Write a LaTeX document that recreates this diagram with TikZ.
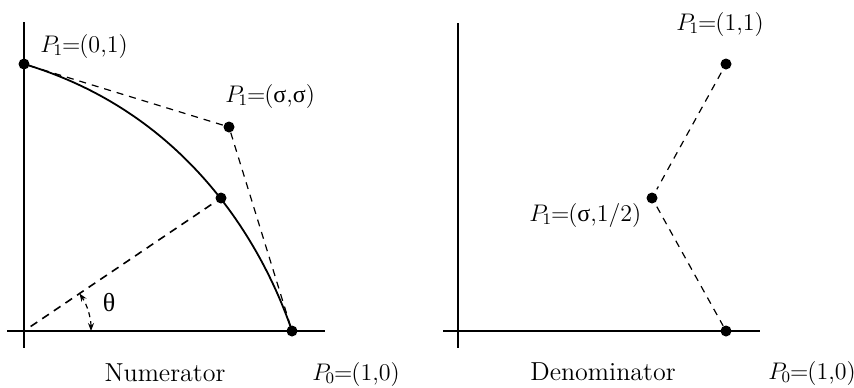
\documentclass[tikz,border=0pt]{standalone}
\usepackage{fontspec}
\newfontfamily\grk{Liberation Serif}
\usetikzlibrary{arrows.meta}
\tikzset{
  dot/.style={circle,fill=black,inner sep=0pt,minimum size=5.5pt},
  axis/.style={line width=1.1pt},
  curveline/.style={line width=0.9pt},
  dashline/.style={line width=0.6pt,dash pattern=on 3.5pt off 3pt},
  lbl/.style={inner sep=0pt,font=\fontsize{12}{14}\selectfont},
  captext/.style={inner sep=0pt,font=\fontsize{13}{15}\selectfont},
}
\newcommand{\sg}{{\grk σ}}
\newcommand{\eqq}{\kern-0.5pt=\kern-0.5pt}
\newcommand{\PtSub}[1]{$P_{\kern-1pt #1}$}
\begin{document}
\begin{tikzpicture}[x=0.5pt,y=-0.5pt]
\useasboundingbox (0,0) rectangle (854,387);
% ---------- left panel ----------
\coordinate (ly1) at (24,22);
\coordinate (ly2) at (24,348);
\coordinate (lx1) at (7,331);
\coordinate (lx2) at (325,331);
\coordinate (O) at (24,331);
\draw[axis] (ly1) -- (ly2);
\draw[axis] (lx1) -- (lx2);
\node[dot] (a) at (24,64) {};
\node[dot] (s) at (229,127) {};
\node[dot] (m) at (221,198) {};
\node[dot] (p0) at (292,331) {};
\draw[curveline] (a.center) .. controls (205,118) and (272,272) .. (p0.center);
\draw[dashline] (a) -- (s);
\draw[dashline] (s) -- (p0);
\draw[dashline,line width=0.8pt,dash pattern=on 4pt off 3pt,shorten <=4pt] (O) -- (m);
\coordinate (arcstart) at (91,331);
\draw[dashline,dash pattern=on 2.5pt off 2pt,{Stealth[length=4pt,width=3pt]}-{Stealth[length=4pt,width=3pt]}]
  (arcstart) arc[start angle=0,end angle=34,radius=33.5pt];
\node[captext] (th) at (109,303) {\grk θ};
\node[lbl,anchor=base west] (la) at (40,52) {\PtSub{1}\eqq(0,1)};
\node[lbl,anchor=base west] (ls) at (225,102) {\PtSub{1}\eqq(\sg,\sg)};
\node[captext,anchor=base] (num) at (165,381) {Numerator};
\node[lbl,anchor=base west] (lp0) at (312,380) {\PtSub{0}\eqq(1,0)};
% ---------- right panel ----------
\coordinate (ry1) at (458,23);
\coordinate (ry2) at (458,348);
\coordinate (rx1) at (443,331);
\coordinate (rx2) at (760,331);
\draw[axis] (ry1) -- (ry2);
\draw[axis] (rx1) -- (rx2);
\node[dot] (b) at (726,64) {};
\node[dot] (h) at (652,198) {};
\node[dot] (q0) at (726,331) {};
\draw[dashline,shorten <=2pt,shorten >=2pt] (b) -- (h);
\draw[dashline,shorten <=2pt] (h) -- (q0);
\node[lbl,anchor=base west] (lb) at (676,30) {\PtSub{1}\eqq(1,1)};
\node[lbl,anchor=base west] (lh) at (529,221) {\PtSub{1}\eqq(\sg,1/2)};
\node[captext,anchor=base] (den) at (603,380) {Denominator};
\node[lbl,anchor=base west] (lq0) at (768,379) {\PtSub{0}\eqq(1,0)};
\end{tikzpicture}
\end{document}
